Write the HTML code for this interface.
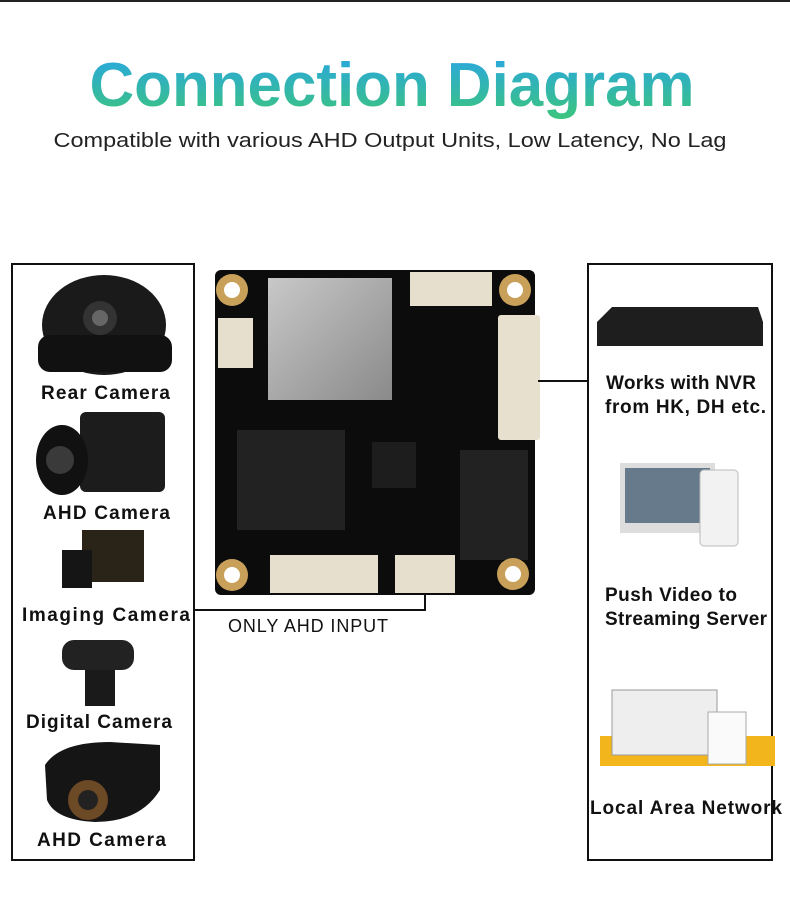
<!DOCTYPE html>
<html><head><meta charset="utf-8"><style>
html,body{margin:0;padding:0;background:#fff;}
svg{display:block}
text{font-family:"Liberation Sans",sans-serif;}
</style></head><body>
<svg width="790" height="901" viewBox="0 0 790 901" xmlns="http://www.w3.org/2000/svg">
<defs>
<linearGradient id="tg" gradientUnits="userSpaceOnUse" x1="0" y1="58" x2="0" y2="118">
<stop offset="0" stop-color="#2aa8dc"/><stop offset="1" stop-color="#3cc47e"/></linearGradient>
<linearGradient id="sil" x1="0" y1="0" x2="1" y2="1"><stop offset="0" stop-color="#c8c8c8"/><stop offset="1" stop-color="#8a8a8a"/></linearGradient>
</defs>
<rect x="0" y="0" width="790" height="2" fill="#222"/>
<text x="392" y="106" text-anchor="middle" font-size="62" font-weight="bold" fill="url(#tg)" textLength="605" lengthAdjust="spacingAndGlyphs">Connection Diagram</text>
<text x="390" y="147" text-anchor="middle" font-size="20" fill="#222" textLength="673" lengthAdjust="spacingAndGlyphs">Compatible with various AHD Output Units, Low Latency, No Lag</text>

<rect x="12" y="264" width="182" height="596" fill="none" stroke="#111" stroke-width="2"/>
<rect x="588" y="264" width="184" height="596" fill="none" stroke="#111" stroke-width="2"/>

<!-- left images -->
<ellipse cx="104" cy="325" rx="62" ry="50" fill="#1a1a1a"/>
<rect x="38" y="335" width="134" height="37" rx="12" fill="#111"/>
<circle cx="100" cy="318" r="17" fill="#333"/><circle cx="100" cy="318" r="8" fill="#666"/>
<rect x="80" y="412" width="85" height="80" rx="6" fill="#1c1c1c"/>
<ellipse cx="62" cy="460" rx="26" ry="35" fill="#111"/><circle cx="60" cy="460" r="14" fill="#3a3a3a"/>
<rect x="82" y="530" width="62" height="52" fill="#2a2418"/><rect x="62" y="550" width="30" height="38" fill="#151515"/>
<rect x="62" y="640" width="72" height="30" rx="12" fill="#222"/><rect x="85" y="670" width="30" height="36" fill="#1a1a1a"/>
<path d="M45 765 Q60 742 110 742 L160 745 L160 790 Q140 822 95 822 Q55 820 47 800 Z" fill="#151515"/>
<circle cx="88" cy="800" r="20" fill="#6b4a25"/><circle cx="88" cy="800" r="10" fill="#222"/>

<g font-size="19" font-weight="bold" fill="#111" lengthAdjust="spacingAndGlyphs">
<text x="41" y="399" textLength="129">Rear Camera</text>
<text x="43" y="519" textLength="127">AHD Camera</text>
<text x="22" y="621" textLength="168">Imaging Camera</text>
<text x="26" y="728" textLength="146">Digital Camera</text>
<text x="37" y="846" textLength="129">AHD Camera</text>
<text x="606" y="389" textLength="150">Works with NVR</text>
<text x="605" y="413" textLength="161">from HK, DH etc.</text>
<text x="605" y="601" textLength="132">Push Video to</text>
<text x="605" y="625" textLength="162">Streaming Server</text>
<text x="590" y="814" textLength="192">Local Area Network</text>
<text x="228" y="632" font-weight="normal" font-size="18" textLength="160">ONLY AHD INPUT</text>
</g>

<!-- right images -->
<path d="M597 322 L612 307 L758 307 L763 322 L763 346 L597 346 Z" fill="#1e1e1e"/>
<rect x="620" y="463" width="95" height="70" fill="#ddd"/><rect x="625" y="468" width="85" height="55" fill="#667a8c"/>
<rect x="700" y="470" width="38" height="76" rx="4" fill="#f2f2f2" stroke="#bbb"/>
<rect x="600" y="736" width="175" height="30" fill="#f2b51c"/>
<rect x="612" y="690" width="105" height="65" fill="#eee" stroke="#999"/>
<rect x="708" y="712" width="38" height="52" fill="#fafafa" stroke="#aaa"/>

<!-- PCB -->
<rect x="215" y="270" width="320" height="325" rx="6" fill="#0c0c0c"/>
<rect x="268" y="278" width="124" height="122" fill="url(#sil)"/>
<rect x="237" y="430" width="108" height="100" fill="#222"/>
<rect x="372" y="442" width="44" height="46" fill="#1d1d1d"/>
<rect x="460" y="450" width="68" height="110" fill="#222"/>
<rect x="498" y="315" width="42" height="125" rx="3" fill="#e8e0cf"/>
<rect x="410" y="272" width="82" height="34" fill="#e6dfcd"/>
<rect x="218" y="318" width="35" height="50" fill="#e6dfcd"/>
<rect x="270" y="555" width="108" height="38" fill="#e6dfcd"/>
<rect x="395" y="555" width="60" height="38" fill="#e6dfcd"/>
<g fill="#c9a05a"><circle cx="232" cy="290" r="16"/><circle cx="515" cy="290" r="16"/><circle cx="232" cy="575" r="16"/><circle cx="513" cy="574" r="16"/></g>
<g fill="#fff"><circle cx="232" cy="290" r="8"/><circle cx="515" cy="290" r="8"/><circle cx="232" cy="575" r="8"/><circle cx="513" cy="574" r="8"/></g>

<!-- connectors -->
<polyline points="195,610 425,610 425,594" fill="none" stroke="#111" stroke-width="2"/>
<line x1="538" y1="381" x2="588" y2="381" stroke="#111" stroke-width="2"/>
</svg>
</body></html>
